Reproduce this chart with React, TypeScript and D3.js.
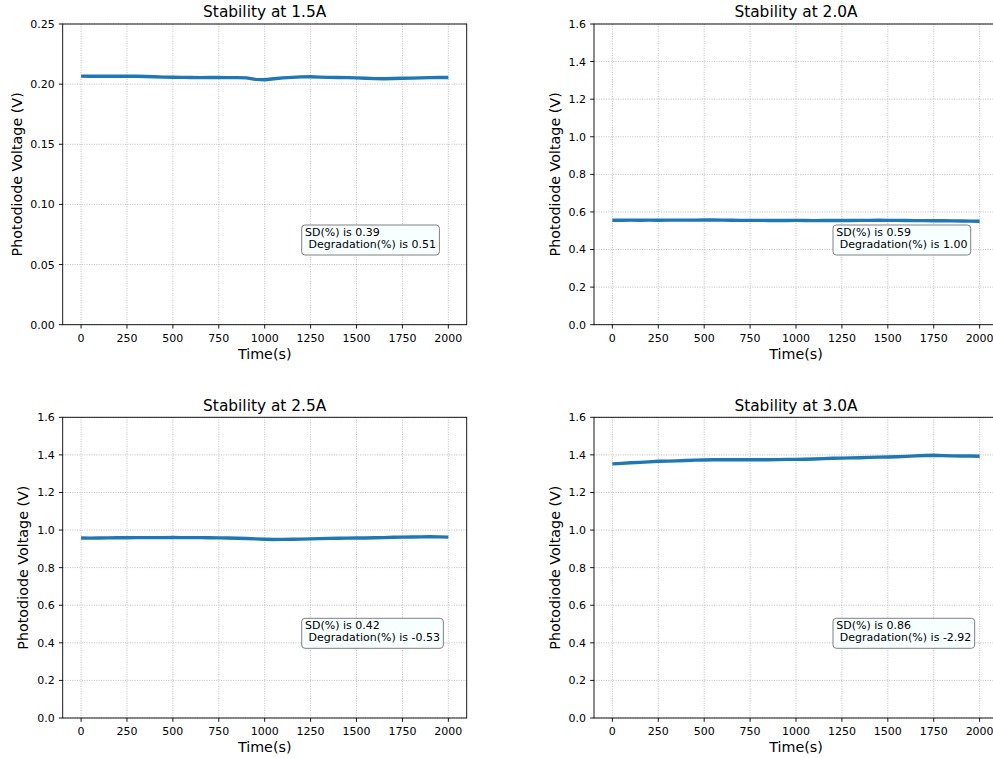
import React, { useEffect, useRef } from "react";
import * as d3 from "d3";

const W = 993;
const H = 758;

const times = [
  0, 50, 100, 150, 200, 250, 300, 350, 400, 450, 500, 550, 600, 650, 700, 750, 800, 850, 900, 950,
  1000, 1050, 1100, 1150, 1200, 1250, 1300, 1350, 1400, 1450, 1500, 1550, 1600, 1650, 1700, 1750,
  1800, 1850, 1900, 1950, 2000,
];

const v15 = [
  0.2067, 0.2066, 0.2067, 0.2066, 0.2065, 0.2066, 0.2065, 0.2064, 0.2062, 0.2058, 0.2057, 0.2056,
  0.2055, 0.2054, 0.2055, 0.2055, 0.2054, 0.2054, 0.2052, 0.204, 0.2037, 0.2045, 0.2052, 0.2056,
  0.206, 0.2061, 0.2058, 0.2056, 0.2055, 0.2054, 0.2052, 0.2049, 0.2046, 0.2045, 0.2047, 0.2049,
  0.205, 0.2052, 0.2054, 0.2055, 0.2055,
];

const v20 = [
  0.556, 0.5558, 0.5562, 0.556, 0.5563, 0.556, 0.5562, 0.5565, 0.5563, 0.5566, 0.557, 0.5572,
  0.5565, 0.5558, 0.5553, 0.555, 0.5552, 0.5548, 0.5545, 0.5547, 0.555, 0.5545, 0.554, 0.5542,
  0.5545, 0.5543, 0.5547, 0.555, 0.5552, 0.5555, 0.5553, 0.555, 0.5545, 0.554, 0.5538, 0.5535,
  0.553, 0.5525, 0.552, 0.5512, 0.5505,
];

const v25 = [
  0.9575, 0.957, 0.9575, 0.9585, 0.959, 0.9592, 0.9595, 0.9598, 0.96, 0.96, 0.9605, 0.96, 0.9598,
  0.9595, 0.9592, 0.9585, 0.9575, 0.9565, 0.955, 0.953, 0.9515, 0.95, 0.9505, 0.9515, 0.952, 0.953,
  0.9545, 0.956, 0.9565, 0.957, 0.9575, 0.958, 0.959, 0.96, 0.9615, 0.9625, 0.963, 0.964, 0.965,
  0.9635, 0.9625,
];

const v30 = [
  1.352, 1.355, 1.358, 1.36, 1.363, 1.366, 1.367, 1.368, 1.37, 1.372, 1.373, 1.374, 1.374, 1.374,
  1.374, 1.374, 1.374, 1.374, 1.375, 1.376, 1.376, 1.377, 1.378, 1.38, 1.382, 1.383, 1.384, 1.385,
  1.387, 1.388, 1.389, 1.39, 1.392, 1.395, 1.397, 1.398, 1.396, 1.395, 1.394, 1.394, 1.393,
];

const titles = ["Stability at 1.5A", "Stability at 2.0A", "Stability at 2.5A", "Stability at 3.0A"];
const sdTexts = ["0.39", "0.59", "0.42", "0.86"];
const degTexts = ["0.51", "1.00", "-0.53", "-2.92"];
const xTicks = [0, 250, 500, 750, 1000, 1250, 1500, 1750, 2000];
const yTicksSmall = [0, 0.05, 0.1, 0.15, 0.2, 0.25];
const yTicksLarge = [0, 0.2, 0.4, 0.6, 0.8, 1.0, 1.2, 1.4, 1.6];

const series = [v15, v20, v25, v30];

const FONT = "DejaVu Sans, sans-serif";

export default function App() {
  const ref = useRef<SVGSVGElement | null>(null);

  useEffect(() => {
    const svg = d3.select(ref.current);
    svg.selectAll("*").remove();
    svg.append("rect").attr("width", W).attr("height", H).attr("fill", "#fff");

    const aw = 404;
    const ah = 300.7;
    const panels = [
      { left: 62.7, top: 24 },
      { left: 594, top: 24 },
      { left: 62.7, top: 417.3 },
      { left: 594, top: 417.3 },
    ];

    panels.forEach((p, i) => {
      const g = svg.append("g").attr("transform", `translate(${p.left},${p.top})`);
      const x = d3.scaleLinear().domain([-100, 2100]).range([0, aw]);
      const small = i === 0;
      const y = d3.scaleLinear().domain(small ? [0, 0.25] : [0, 1.6]).range([ah, 0]);
      const yTicks = small ? yTicksSmall : yTicksLarge;
      const fmt = small ? d3.format(".2f") : d3.format(".1f");

      // grid
      const grid = g.append("g");
      xTicks.forEach((t) => {
        grid
          .append("line")
          .attr("x1", x(t))
          .attr("x2", x(t))
          .attr("y1", 0)
          .attr("y2", ah)
          .attr("stroke", "#b0b0b0")
          .attr("stroke-width", 0.9)
          .attr("stroke-dasharray", "0.9,1.5");
      });
      yTicks.forEach((t) => {
        grid
          .append("line")
          .attr("x1", 0)
          .attr("x2", aw)
          .attr("y1", y(t))
          .attr("y2", y(t))
          .attr("stroke", "#b0b0b0")
          .attr("stroke-width", 0.9)
          .attr("stroke-dasharray", "0.9,1.5");
      });

      // data line
      const data = times.map((t, k) => [t, series[i][k]] as [number, number]);
      const line = d3
        .line<[number, number]>()
        .x((d) => x(d[0]))
        .y((d) => y(d[1]));
      g.append("path")
        .attr("d", line(data) as string)
        .attr("fill", "none")
        .attr("stroke", "#1f77b4")
        .attr("stroke-width", 3.4)
        .attr("stroke-linejoin", "round");

      // spines
      g.append("rect")
        .attr("x", 0)
        .attr("y", 0)
        .attr("width", aw)
        .attr("height", ah)
        .attr("fill", "none")
        .attr("stroke", "#000")
        .attr("stroke-width", 0.9);

      // x ticks
      xTicks.forEach((t) => {
        g.append("line")
          .attr("x1", x(t))
          .attr("x2", x(t))
          .attr("y1", ah)
          .attr("y2", ah + 3.85)
          .attr("stroke", "#000")
          .attr("stroke-width", 0.9);
        g.append("text")
          .attr("x", x(t))
          .attr("y", ah + 17)
          .attr("text-anchor", "middle")
          .attr("font-family", FONT)
          .attr("font-size", 11)
          .attr("fill", "#000")
          .text(String(t));
      });
      yTicks.forEach((t) => {
        g.append("line")
          .attr("x1", -3.85)
          .attr("x2", 0)
          .attr("y1", y(t))
          .attr("y2", y(t))
          .attr("stroke", "#000")
          .attr("stroke-width", 0.9);
        g.append("text")
          .attr("x", -7.9)
          .attr("y", y(t))
          .attr("dy", "0.36em")
          .attr("text-anchor", "end")
          .attr("font-family", FONT)
          .attr("font-size", 11)
          .attr("fill", "#000")
          .text(fmt(t));
      });

      // title
      g.append("text")
        .attr("x", aw / 2)
        .attr("y", -6.7)
        .attr("text-anchor", "middle")
        .attr("font-family", FONT)
        .attr("font-size", 15.4)
        .attr("fill", "#000")
        .text(titles[i]);

      // x label
      g.append("text")
        .attr("x", aw / 2)
        .attr("y", ah + 34.5)
        .attr("text-anchor", "middle")
        .attr("font-family", FONT)
        .attr("font-size", 14.3)
        .attr("fill", "#000")
        .text("Time(s)");

      // y label
      const yo = small ? 41 : 34.5;
      g.append("text")
        .attr("transform", `translate(${-yo},${ah / 2}) rotate(-90)`)
        .attr("text-anchor", "middle")
        .attr("font-family", FONT)
        .attr("font-size", 14.3)
        .attr("fill", "#000")
        .text("Photodiode Voltage (V)");

      // annotation box
      const bx = 239;
      const by = 201;
      const box = g.append("g").attr("transform", `translate(${bx},${by})`);
      const rect = box.append("rect");
      const t1 = box
        .append("text")
        .attr("x", 3.3)
        .attr("y", 10.8)
        .attr("font-family", FONT)
        .attr("font-size", 11)
        .attr("fill", "#000")
        .attr("xml:space", "preserve")
        .style("white-space", "pre")
        .text(`SD(%) is ${sdTexts[i]}`);
      const t2 = box
        .append("text")
        .attr("x", 3.3)
        .attr("y", 22.6)
        .attr("font-family", FONT)
        .attr("font-size", 11)
        .attr("fill", "#000")
        .attr("xml:space", "preserve")
        .style("white-space", "pre")
        .text(` Degradation(%) is ${degTexts[i]}`);
      const w1 = (t1.node() as SVGTextElement).getComputedTextLength();
      const w2 = (t2.node() as SVGTextElement).getComputedTextLength();
      const bw = Math.max(w1, w2) + 6.6;
      rect
        .attr("x", 0)
        .attr("y", 0)
        .attr("width", bw)
        .attr("height", 30)
        .attr("rx", 3.3)
        .attr("ry", 3.3)
        .attr("fill", "#f7ffff")
        .attr("stroke", "#808080")
        .attr("stroke-width", 1);
    });
  }, []);

  return (
    <svg
      ref={ref}
      width={W}
      height={H}
      style={{ position: "absolute", left: 0, top: 0, display: "block" }}
    />
  );
}
